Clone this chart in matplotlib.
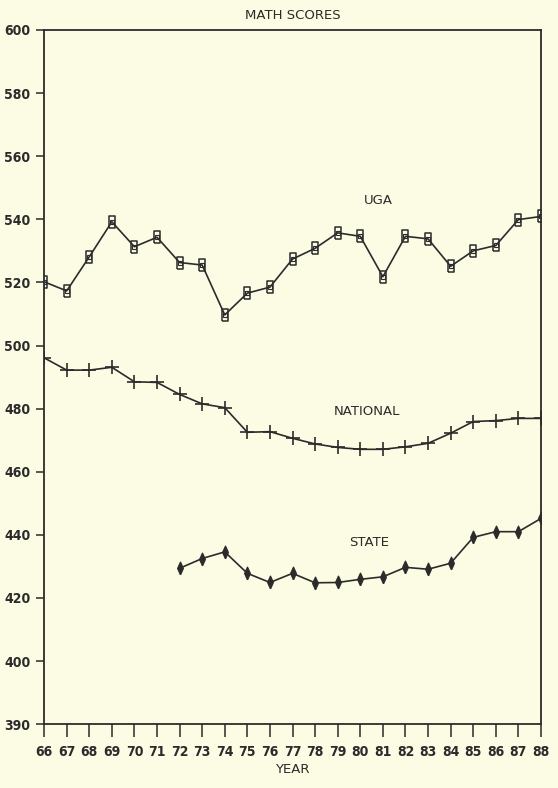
import matplotlib
matplotlib.use('Agg')
import matplotlib.pyplot as plt

years = list(range(66, 89))
uga = [520.2, 517.3, 528.1, 539.2, 531.3, 534.3, 526.3, 525.5, 509.7, 516.6, 518.5,
       527.4, 530.8, 535.7, 534.6, 521.8, 534.6, 533.8, 525.1, 530.0, 531.7, 539.9, 540.9]
national = [496.1, 492.2, 492.2, 493.1, 488.5, 488.3, 484.5, 481.5, 480.3, 472.5, 472.7,
            470.6, 468.8, 467.7, 467.1, 467.1, 467.9, 469.0, 472.2, 475.9, 476.2, 476.9, 476.9]
state_years = list(range(72, 89))
state = [429.4, 432.5, 434.6, 427.8, 424.9, 427.8, 424.8, 424.9, 425.9, 426.7,
         429.7, 429.1, 431.0, 439.2, 441.0, 441.0, 445.2]

yticks = [380, 400, 420, 440, 460, 480, 500, 520, 540, 560, 580, 600]
ytick_labels = ['390', '400', '420', '440', '460', '480', '500', '520', '540', '560', '580', '600']

bg = '#fcfbe4'
ink = '#2b2b2b'
tick_font = dict(family=['Liberation Sans Narrow', 'DejaVu Sans'], fontweight='bold',
                 fontstretch='condensed', fontsize=10, color=ink)

fig = plt.figure(figsize=(5.58, 7.88), dpi=100, facecolor=bg)
ax = fig.add_axes([0.079, 0.081, 0.8905, 0.881])
ax.set_facecolor(bg)

# tall box markers for UGA, thin diamonds for state
box = [(-0.55, -1), (0.55, -1), (0.55, 1), (-0.55, 1), (-0.55, -1)]
diamond = [(0, -1), (0.45, 0), (0, 1), (-0.45, 0), (0, -1)]
ax.plot(years, uga, '-', color=ink, lw=1.2, marker=box, markersize=9,
        markerfacecolor='none', markeredgecolor=ink, markeredgewidth=1.1)
ax.plot(years, uga, 'none', marker='s', markersize=2.5, markerfacecolor='none',
        markeredgecolor=ink, markeredgewidth=0.8)
ax.plot(years, national, '-', color=ink, lw=1.2, marker='+', markersize=10,
        markeredgewidth=1.2)
ax.plot(state_years, state, '-', color=ink, lw=1.2, marker=diamond, markersize=9,
        markerfacecolor=ink, markeredgecolor=ink)

ax.text(80.8, 546, 'UGA', ha='center', va='center', fontsize=9.5, color=ink)
ax.text(80.3, 479, 'NATIONAL', ha='center', va='center', fontsize=9.5, color=ink)
ax.text(80.4, 437.5, 'STATE', ha='center', va='center', fontsize=9.5, color=ink)

ax.set_xlim(66, 88)
ax.set_ylim(380, 600)
ax.set_xticks(years)
ax.set_xticklabels([str(y) for y in years], **tick_font)
ax.set_yticks(yticks)
ax.set_yticklabels(ytick_labels, **tick_font)
ax.tick_params(axis='x', direction='out', length=9, width=1.1, color=ink, pad=6)
ax.tick_params(axis='y', direction='out', length=6, width=1.1, color=ink, pad=4)
for s in ax.spines.values():
    s.set_color(ink)
    s.set_linewidth(1.3)

ax.set_title('MATH SCORES', fontsize=9.5, color=ink, pad=8)
ax.set_xlabel('YEAR', fontsize=9.5, color=ink, labelpad=3)

fig.savefig('out.png', dpi=100, facecolor=bg)
